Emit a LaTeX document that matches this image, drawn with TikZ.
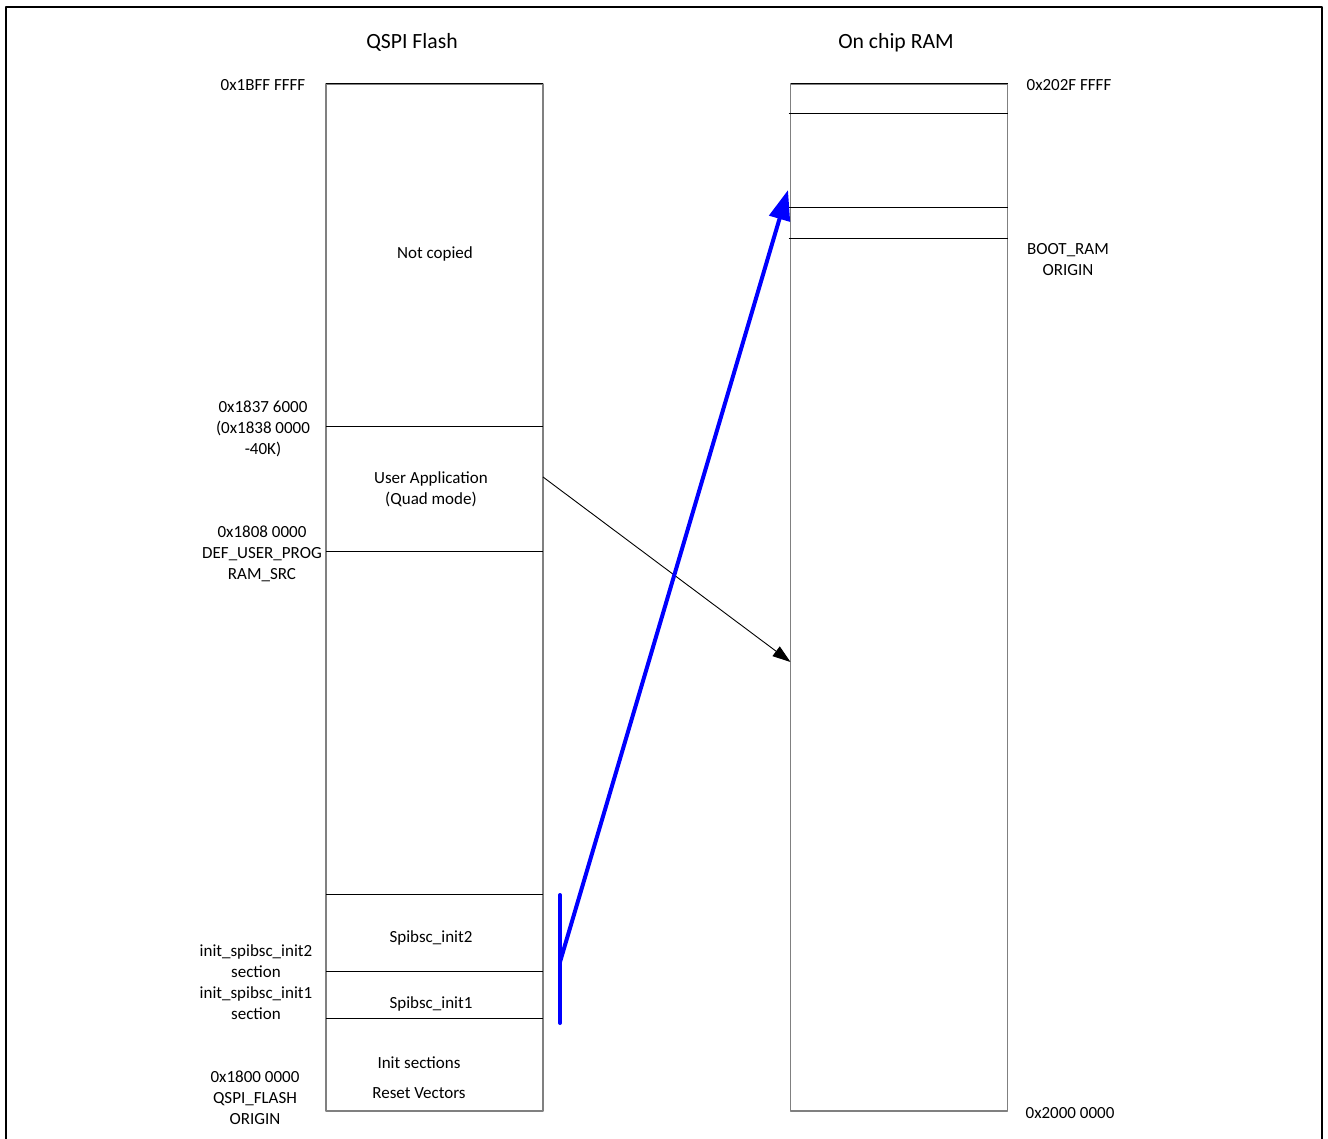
\documentclass[tikz,border=0pt]{standalone}
\usepackage{fontspec}
\setmainfont{Carlito}
\usetikzlibrary{arrows.meta,positioning,calc}

\definecolor{boxgray}{RGB}{128,128,128}
\definecolor{copyblue}{RGB}{0,0,255}

\begin{document}
\begin{tikzpicture}[x=1pt,y=-1pt,line join=round,
    region/.style={draw=boxgray,line width=1.6pt,minimum width=217pt,minimum height=1027pt,inner sep=0pt,outer sep=0pt},
    divider/.style={black,line width=1pt},
    lbl/.style={font=\fontsize{17}{21}\selectfont,align=center,inner sep=0pt,yshift=-1.5pt},
    ttl/.style={font=\fontsize{21.7}{26}\selectfont,inner sep=0pt,yshift=-1.5pt}]
      \useasboundingbox (0,0) rectangle (1328,1139);
      \draw[line width=2pt] (6,7) rectangle (1322,1160);
      % the two memories
      \node[region] (flash) at (434.5,597.5) {};
      \node[region] (ram) at (899,597.5) {};
      \node[ttl] (flashttl) at (412,41) {QSPI Flash};
      \node[ttl] (ramttl) at (896,41) {On chip RAM};
      \draw[divider] (flash.north west)--(flash.north east);
      \draw[divider] (ram.north west)--(ram.north east);
      \foreach \y in {426,551,894,971,1018}
        \draw[divider] (flash.west |- 0,\y)--(flash.east |- 0,\y);
      \foreach \y in {114,208,239}
        \draw[divider] ([xshift=-2pt]ram.west |- 0,\y)--(ram.east |- 0,\y);
      % flash contents
      \node[lbl] (notcopied) at (435,252) {Not copied};
      \node[lbl] (userapp) at (431,488) {User Application\\(Quad mode)};
      \node[lbl] (init2) at (431,936) {Spibsc\_init2};
      \node[lbl] (init1) at (431,1002) {Spibsc\_init1};
      \node[lbl] (initsec) at (419,1061) {Init sections};
      \node[lbl] (resetvec) at (419,1092) {Reset Vectors};
      % flash addresses
      \node[lbl] (flashtop) at (263,84) {0x1BFF FFFF};
      \node[lbl] (appstart) at (263,427) {0x1837 6000\\(0x1838 0000\\-40K)};
      \node[lbl] (progsrc) at (262,552) {0x1808 0000\\DEF\_USER\_PROG\\RAM\_SRC};
      \node[lbl] (sections) at (256,981) {init\_spibsc\_init2\\section\\init\_spibsc\_init1\\section};
      \node[lbl] (flashorg) at (255,1096) {0x1800 0000\\QSPI\_FLASH\\ORIGIN};
      % ram addresses
      \node[lbl] (ramtop) at (1069,84) {0x202F FFFF};
      \node[lbl] (bootram) at (1068,258) {BOOT\_RAM\\ORIGIN};
      \node[lbl] (rambot) at (1070,1112) {0x2000 0000};
      % copy paths
      \coordinate (appout) at (flash.east |- 0,477);
      \coordinate (appin) at (ram.west |- 0,662);
      \draw[line width=0.9pt,-{Triangle[length=18pt,width=12pt]}] (appout)--(appin);
      \coordinate (brtop) at (560,895);
      \coordinate (brmid) at (560,962);
      \coordinate (brbot) at (560,1023);
      \coordinate (bootin) at (788,190);
      \draw[copyblue,line width=4pt,line cap=round] (brtop)--(brbot);
      \draw[copyblue,line width=4pt,line cap=round,-{Triangle[length=30pt,width=21pt]}] (brmid)--(bootin);
    \end{tikzpicture}
\end{document}
